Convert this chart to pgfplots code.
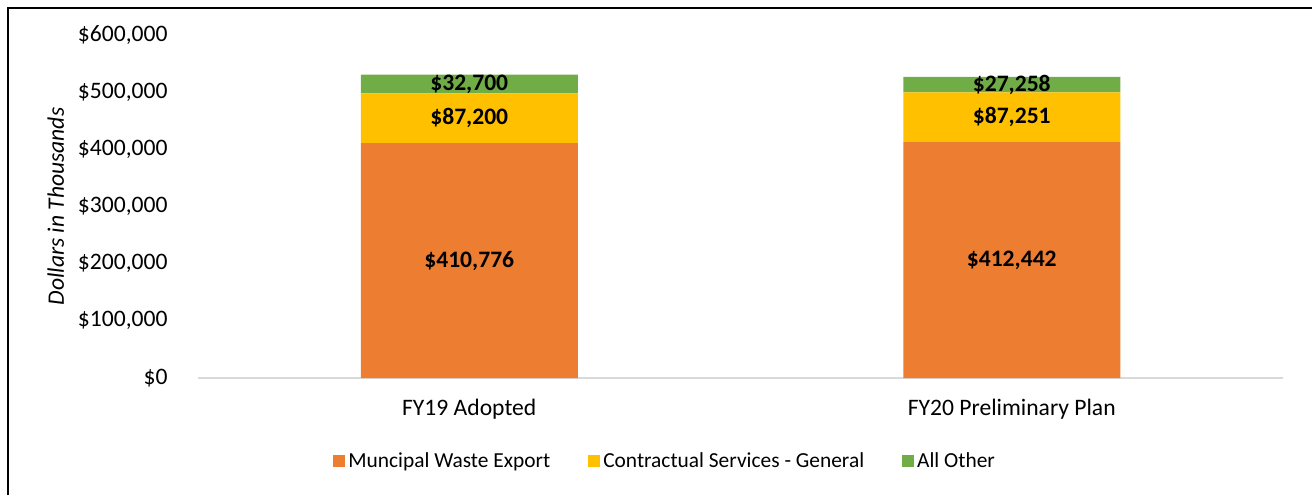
\documentclass[border=0pt]{standalone}
\usepackage{fontspec}
\setmainfont{Carlito}
\usepackage{pgfplots}
\usepackage{pgfplotstable}
\pgfplotsset{compat=1.18}
\definecolor{cOrange}{HTML}{ED7D31}
\definecolor{cYellow}{HTML}{FFC000}
\definecolor{cGreen}{HTML}{70AD47}
\definecolor{cAxis}{HTML}{D9D9D9}
\pgfplotstableread{
x mwe csg oth
0 410776 87200 32700
1 412442 87251 27258
}\budget
\pgfplotsset{
  lbl/.style={
    visualization depends on={rawy \as \rawv},
    nodes near coords={\$\pgfmathprintnumber[fixed,precision=0,1000 sep={,}]{\rawv}},
    every node near coord/.append style={font=\bfseries\fontsize{11.8}{14}\selectfont, anchor=center, text=black, inner sep=0pt}
  }
}
\begin{document}
\begin{tikzpicture}
\path[use as bounding box] (0,0) rectangle (656pt,247.5pt);
\draw[line width=1pt] (4pt,0) -- (4pt,243.75pt) -- (656pt,243.75pt);
\begin{axis}[
  at={(99pt,58.5pt)}, anchor=south west,
  scale only axis, width=542.5pt, height=171.5pt,
  ybar stacked, bar width=108.5pt,
  xmin=-0.5, xmax=1.5, ymin=0, ymax=600000,
  xtick={0,1}, xticklabels={FY19 Adopted, FY20 Preliminary Plan},
  ytick={0,100000,200000,300000,400000,500000,600000},
  scaled y ticks=false,
  /pgf/number format/assume math mode=true,
  yticklabel={\$\pgfmathprintnumber[fixed,precision=0,1000 sep={,}]{\tick}},
  major tick length=0pt,
  axis x line*=bottom, axis y line*=left,
  x axis line style={draw=cAxis, line width=0.75pt, -},
  y axis line style={draw=none},
  font=\fontsize{11.8}{14}\selectfont,
  yticklabel style={inner sep=0pt, anchor=east, xshift=-15pt},
  xticklabel style={inner sep=0pt, anchor=base, yshift=-18.5pt},
  ylabel={\itshape Dollars in Thousands},
  ylabel style={at={(axis description cs:-0.131,0.5)}, anchor=center},
  legend columns=3,
  legend style={at={(0.431,-0.243)}, anchor=center, draw=none, fill=none,
    font=\fontsize{10.7}{12}\selectfont,
    /tikz/every even column/.append style={column sep=17.5pt},
    /tikz/every odd column/.append style={column sep=0pt},
    nodes={inner xsep=1.5pt}},
  legend image code/.code={\fill[#1, draw=none] (0pt,-3pt) rectangle (6pt,3pt);},
  clip=false,
]
\addplot[fill=cOrange, draw=none, lbl] table[x=x,y=mwe]{\budget};
\addlegendentry{Muncipal Waste Export}
\addplot[fill=cYellow, draw=none, lbl] table[x=x,y=csg]{\budget};
\addlegendentry{Contractual Services - General}
\addplot[fill=cGreen, draw=none, lbl] table[x=x,y=oth]{\budget};
\addlegendentry{All Other}
\end{axis}
\end{tikzpicture}
\end{document}
